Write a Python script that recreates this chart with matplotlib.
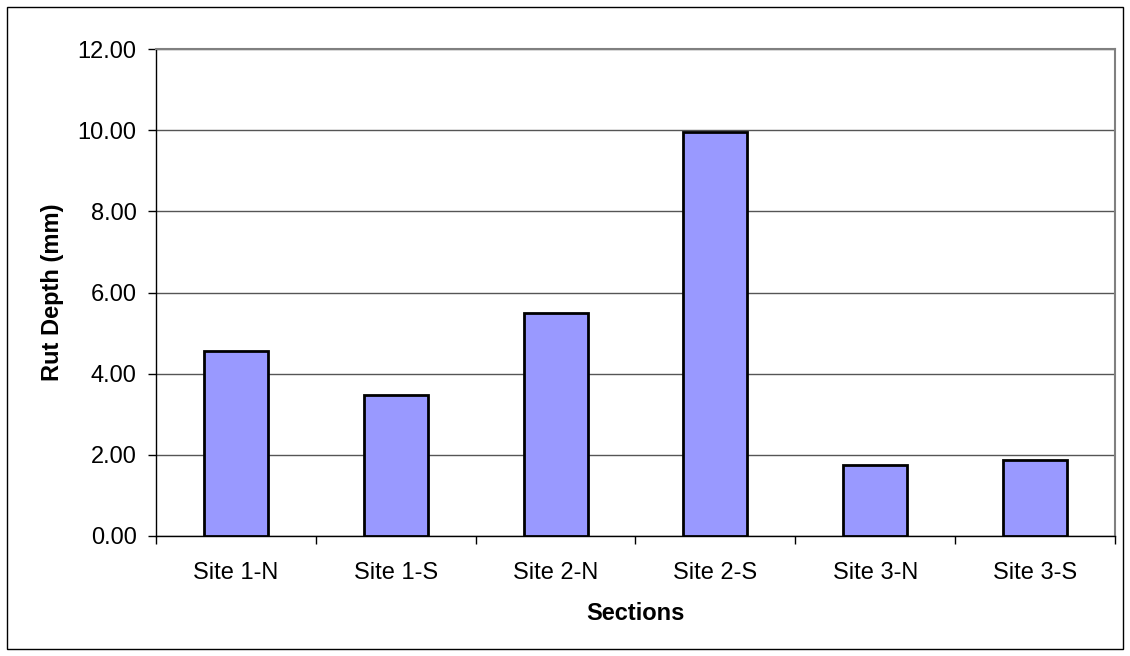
import numpy as np
import matplotlib.pyplot as plt
from matplotlib.patches import Rectangle

plt.rcParams['font.family'] = ['Liberation Sans', 'DejaVu Sans']

sections = ["Site 1-N", "Site 1-S", "Site 2-N", "Site 2-S", "Site 3-N", "Site 3-S"]
rut_depth = [4.57, 3.47, 5.49, 9.95, 1.75, 1.87]
y_ticks = [0, 2, 4, 6, 8, 10, 12]

W, H = 1130, 656
fig = plt.figure(figsize=(W / 100, H / 100), dpi=100)

# outer chart border
fig.patches.append(Rectangle((7 / W, 7 / H), (W - 14) / W, (H - 14) / H,
                             transform=fig.transFigure, fill=False,
                             edgecolor='black', linewidth=1))

ax = fig.add_axes([156 / W, (H - 536) / H, (1115 - 156) / W, (536 - 49) / H])

x = np.arange(len(sections))
ax.bar(x, rut_depth, width=0.4, color='#9999ff', edgecolor='black',
       linewidth=2, zorder=3)

ax.set_xlim(-0.5, len(sections) - 0.5)
ax.set_ylim(0, 12)
ax.set_yticks(y_ticks)
ax.set_yticklabels([f"{v:.2f}" for v in y_ticks])
ax.yaxis.grid(True, color='#555555', linewidth=1)
ax.set_axisbelow(True)

# category labels in the middle, tick marks on the boundaries
ax.set_xticks(x)
ax.set_xticklabels(sections)
ax.set_xticks(np.arange(-0.5, len(sections)), minor=True)
ax.tick_params(axis='x', which='major', length=0, pad=19, labelsize=17)
ax.tick_params(axis='x', which='minor', length=6, width=1, direction='out')
ax.tick_params(axis='y', length=6, width=1, pad=8, labelsize=17)

for side in ['top', 'right']:
    ax.spines[side].set_color('#808080')
    ax.spines[side].set_linewidth(1.5)
for side in ['left', 'bottom']:
    ax.spines[side].set_color('black')
    ax.spines[side].set_linewidth(1)

ax.set_xlabel("Sections", fontsize=17, fontweight='bold', labelpad=13)
ax.set_ylabel("Rut Depth (mm)", fontsize=17, fontweight='bold', labelpad=10)

fig.savefig("out.png", dpi=100)
